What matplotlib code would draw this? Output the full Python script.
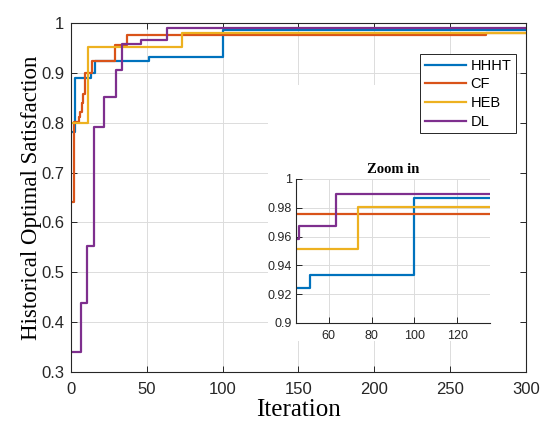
import numpy as np
import matplotlib
matplotlib.use("Agg")
import matplotlib.pyplot as plt
from matplotlib.patches import Rectangle

# step breakpoints (iteration where a new best value appears) and values
hhht_it = [1, 2.5, 13, 16, 51.5, 100]
hhht_val = [0.782, 0.891, 0.900, 0.924, 0.933, 0.987]

cf_it = [1, 2, 5, 6, 7, 8, 9.5, 14, 29, 37, 274]
cf_val = [0.641, 0.802, 0.812, 0.822, 0.840, 0.857, 0.900, 0.925, 0.957, 0.9755, 0.981]

heb_it = [1, 11, 73.5]
heb_val = [0.799, 0.9515, 0.9807]

dl_it = [1, 6.5, 10.5, 15.5, 21.5, 29.5, 34, 46, 63.5]
dl_val = [0.340, 0.439, 0.553, 0.792, 0.851, 0.907, 0.958, 0.967, 0.9898]

names = ["HHHT", "CF", "HEB", "DL"]
colors = ["#0072BD", "#D95319", "#EDB120", "#7E2F8E"]
series = [(hhht_it, hhht_val), (cf_it, cf_val), (heb_it, heb_val), (dl_it, dl_val)]
n_iter = 300

ytick_main = [0.3, 0.4, 0.5, 0.6, 0.7, 0.8, 0.9, 1.0]
ytick_main_lbl = ["0.3", "0.4", "0.5", "0.6", "0.7", "0.8", "0.9", "1"]
xtick_main = [0, 50, 100, 150, 200, 250, 300]
ytick_zoom = [0.9, 0.92, 0.94, 0.96, 0.98, 1.0]
ytick_zoom_lbl = ["0.9", "0.92", "0.94", "0.96", "0.98", "1"]
xtick_zoom = [60, 80, 100, 120]

sans = ["Liberation Sans", "DejaVu Sans"]
serif = ["Liberation Serif", "DejaVu Serif"]
axcol = "#262626"


def style_axes(ax, size, xpad, ypad, box=True):
    ax.grid(True, color="#dcdcdc", linewidth=0.7)
    ax.set_axisbelow(True)
    ax.tick_params(direction="in", length=4, width=0.7, colors=axcol,
                   labelsize=size, top=box, right=box)
    ax.tick_params(axis="x", pad=xpad)
    ax.tick_params(axis="y", pad=ypad)
    for lbl in ax.get_xticklabels() + ax.get_yticklabels():
        lbl.set_family(sans)
    for sp in ax.spines.values():
        sp.set_color(axcol)
        sp.set_linewidth(0.8)
    if not box:
        ax.spines["top"].set_visible(False)
        ax.spines["right"].set_visible(False)


fig = plt.figure(figsize=(5.5, 4.38), dpi=100)
ax = fig.add_axes([0.129, 0.151, 0.827, 0.796])

for (it, val), c, nm in zip(series, colors, names):
    ax.plot(it + [n_iter], val + [val[-1]], drawstyle="steps-post",
            color=c, linewidth=1.6, label=nm)

ax.set_xlim(0, 300)
ax.set_ylim(0.3, 1.0)
ax.set_xticks(xtick_main)
ax.set_yticks(ytick_main)
ax.set_yticklabels(ytick_main_lbl)
style_axes(ax, 12, 7.5, 5)
ax.set_xlabel("Iteration", family=serif, fontsize=18, labelpad=1)
ax.set_ylabel("Historical Optimal Satisfaction", family=serif, fontsize=16.5, labelpad=-1)

leg = ax.legend(loc="upper right", bbox_to_anchor=(0.978, 0.911), borderaxespad=0,
                prop={"family": sans, "size": 10.5}, fancybox=False,
                edgecolor=axcol, framealpha=1, handlelength=2.85,
                handletextpad=0.3, labelspacing=0.32, borderpad=0.3)
leg.get_frame().set_linewidth(0.7)

# white backdrop behind the inset and its labels
ax.add_patch(Rectangle((130, 0.362), 166, 0.513, facecolor="white",
                       edgecolor="none", zorder=1))

axin = fig.add_axes([0.539, 0.2626, 0.351, 0.329])
for (it, val), c in zip(series, colors):
    axin.plot(it + [n_iter], val + [val[-1]], drawstyle="steps-post",
              color=c, linewidth=1.6)
axin.set_xlim(45, 135)
axin.set_ylim(0.9, 1.0)
axin.set_xticks(xtick_zoom)
axin.set_yticks(ytick_zoom)
axin.set_yticklabels(ytick_zoom_lbl)
style_axes(axin, 9, 5, 3.5, box=False)
axin.set_title("Zoom in", family=serif, fontsize=10.5, fontweight="bold", pad=4)

fig.savefig("out.png", dpi=100)
